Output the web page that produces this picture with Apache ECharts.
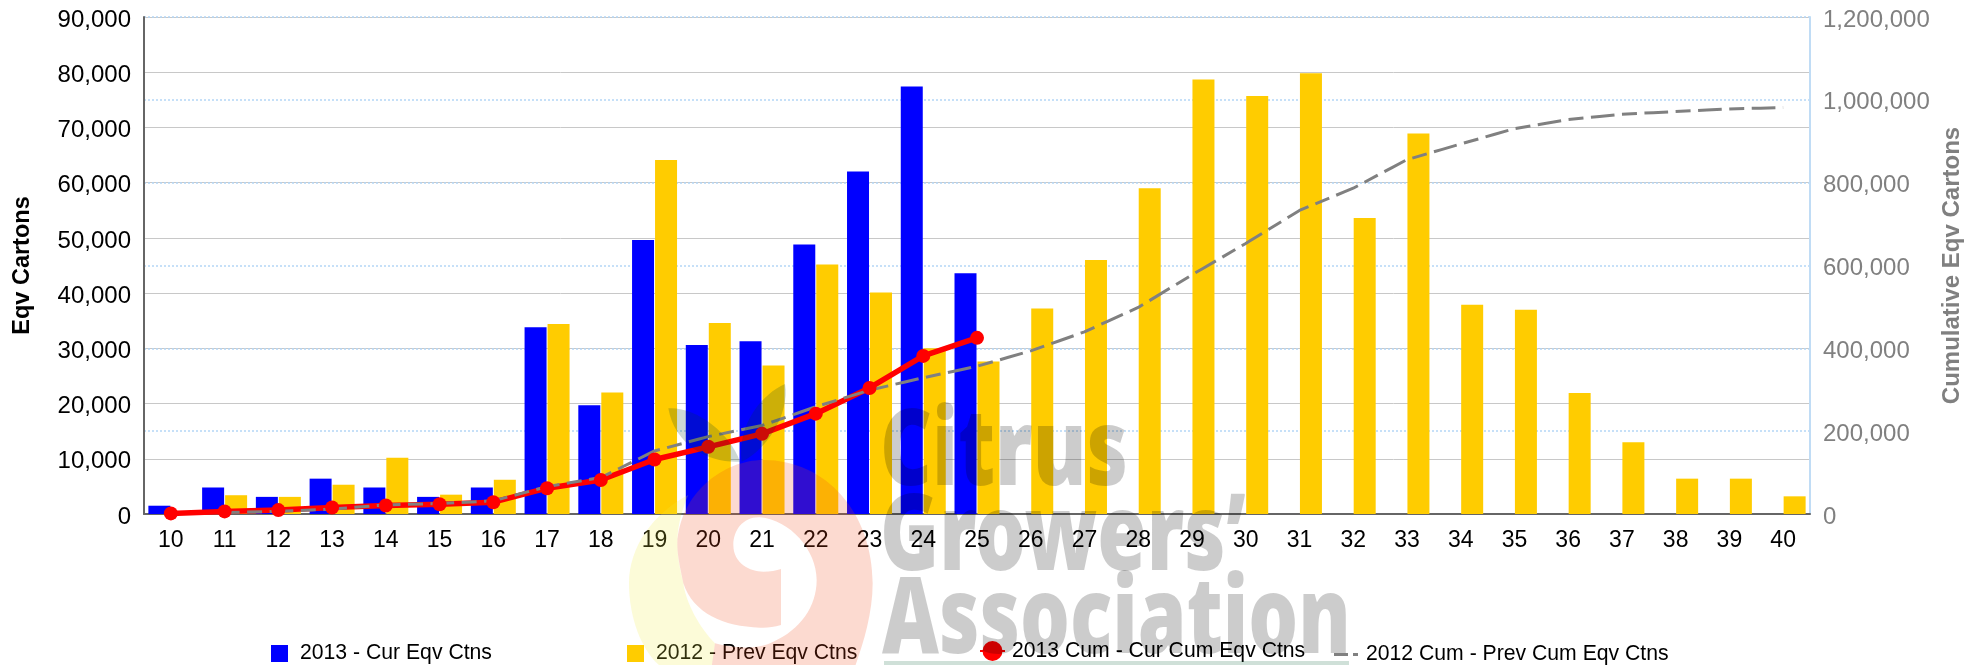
<!DOCTYPE html>
<html>
<head>
<meta charset="utf-8">
<style>html,body{margin:0;padding:0;background:#fff}#c{width:1984px;height:665px}</style>
<script src="https://cdn.jsdelivr.net/npm/echarts@6/dist/echarts.min.js"></script>
</head>
<body>
<div id="c"></div>
<script>
const weeks = ['10','11','12','13','14','15','16','17','18','19','20','21','22','23','24','25','26','27','28','29','30','31','32','33','34','35','36','37','38','39','40'];
const curEqv = [1500,4800,3100,6400,4800,3100,4800,33800,19700,49600,30600,31300,48800,62000,77400,43600];
const prevEqv = [null,3400,3100,5300,10200,3500,6200,34400,22000,64100,34600,26900,45200,40100,30000,27600,37200,46000,59000,78700,75700,79800,53600,68900,37900,37000,21900,13000,6400,6400,3200];
const curCum = [1500,6300,9400,15800,20600,23700,28500,62300,82000,131600,162200,193500,242300,304300,381700,425300];
const prevCum = [null,3400,6500,11800,22000,25500,31700,66100,88100,152200,186800,213700,258900,299000,329000,356600,393800,439800,498800,577500,653200,733000,786600,855500,893400,930400,952300,965300,971700,978100,981300];

const fmt = v => Number(v).toLocaleString('en-US');
const font = 'Liberation Sans';
const legendText = (pad) => ({fontFamily: font, fontSize: 21.2, color: '#000', padding: pad});

const pink = 'rgba(240,70,20,0.2)', cream = 'rgba(240,235,60,0.2)', leaf = 'rgba(0,60,40,0.2)', ink = 'rgba(0,0,0,0.2)';
let shapeCount = 0;
const logoPath = (d, fill) => {
  const name = 'logoShape' + (shapeCount++);
  echarts.graphic.registerShape(name, echarts.graphic.extendPath(d, {}));
  return {type:name, silent:true, z:100, x:600, y:380, scaleX:1/3, scaleY:1/3, style:{fill:fill, stroke:null}};
};
const logoWord = (text, x, y, sx) => ({type:'text', silent:true, z:100, x:x, y:y, scaleX:sx,
  style:{text:text, fill:ink, fontFamily:'Noto Sans', fontWeight:900, fontSize:106, verticalAlign:'top'}});

const chart = echarts.init(document.getElementById('c'), null, {renderer:'canvas'});
chart.setOption({
  animation:false,
  backgroundColor:'#fff',
  grid:{left:144, right:174, top:17, bottom:151},
  xAxis:{type:'category', data:weeks,
    axisLine:{lineStyle:{color:'#666', width:2}}, axisTick:{show:false},
    axisLabel:{fontFamily:font, fontSize:23, color:'#000', margin:15, interval:0}},
  yAxis:[
    {type:'value', min:0, max:90000, interval:10000, name:'Eqv Cartons', nameLocation:'middle', nameGap:109,
     nameTextStyle:{fontFamily:font, fontSize:23.5, fontWeight:'bold', color:'#000'},
     axisLine:{show:true, lineStyle:{color:'#666', width:2}}, axisTick:{show:false},
     axisLabel:{fontFamily:font, fontSize:24, color:'#000', margin:13, verticalAlign:'top', lineHeight:6, formatter:fmt},
     splitLine:{lineStyle:{color:'#c8c8c8', width:1}}},
    {type:'value', min:0, max:1200000, interval:200000, name:'Cumulative Eqv Cartons', nameLocation:'middle', nameGap:118,
     nameTextStyle:{fontFamily:font, fontSize:24, fontWeight:'bold', color:'#808080'},
     axisLine:{show:true, lineStyle:{color:'#c0dcf5', width:2}}, axisTick:{show:false},
     axisLabel:{fontFamily:font, fontSize:24, color:'#808080', margin:13, verticalAlign:'top', lineHeight:6, formatter:fmt},
     splitLine:{show:true, lineStyle:{color:'#b4d6f6', width:1.5, type:[2,2]}}}
  ],
  legend:[
    {left:271, top:643, icon:'rect', data:['2013 - Cur Eqv Ctns'], itemWidth:17, itemHeight:17, itemGap:0, padding:0, textStyle:legendText([0,0,0,7])},
    {left:627, top:643, icon:'rect', data:['2012 - Prev Eqv Ctns'], itemWidth:17, itemHeight:17, itemGap:0, padding:0, textStyle:legendText([0,0,0,7])},
    {left:979, top:640, data:['2013 Cum - Cur Cum Eqv Ctns'], itemWidth:25, itemHeight:25, itemGap:0, padding:0, textStyle:Object.assign(legendText([0,0,0,2]), {verticalAlign:'top', lineHeight:22})},
    {left:1334, top:644, data:[{name:'2012 Cum - Prev Cum Eqv Ctns', icon:'path://M0,0H14V3H0Z M19,0H24V3H19Z'}], itemWidth:24, itemHeight:3, itemGap:0, padding:0, textStyle:legendText([0,0,0,3])}
  ],
  series:[
    {name:'2013 - Cur Eqv Ctns', type:'bar', data:curEqv, barWidth:22, barGap:'4.5%', itemStyle:{color:'#0000ff'}},
    {name:'2012 - Prev Eqv Ctns', type:'bar', data:prevEqv, barWidth:22, barGap:'4.5%', itemStyle:{color:'#ffcc00'}},
    {name:'2013 Cum - Cur Cum Eqv Ctns', type:'line', yAxisIndex:1, data:curCum, symbol:'circle', symbolSize:14,
     itemStyle:{color:'#ff0000'}, lineStyle:{color:'#ff0000', width:5.5}},
    {name:'2012 Cum - Prev Cum Eqv Ctns', type:'line', yAxisIndex:1, data:prevCum, symbol:'none', connectNulls:false,
     itemStyle:{color:'#808080'}, lineStyle:{color:'#808080', width:3, type:[15,7.5,15,7.5,8.7,0]}}
  ],
  graphic:{elements:[
    logoPath('M250,610 C238,560 232,530 232,490 C232,440 245,390 265,345 C160,400 87,500 87,610 C87,720 130,820 183,860 L335,860 L345,790 C300,745 258,670 250,610 Z', cream),
    logoPath('M250,610 C240,560 232,530 232,490 C240,340 370,240 490,240 C680,240 818,400 818,610 C818,700 790,790 765,860 L335,860 L345,790 C400,805 470,810 520,785 C600,750 650,680 650,600 C650,510 570,420 480,412 C430,410 400,450 400,495 C400,550 450,575 490,575 C510,575 530,572 543,567 L543,735 C520,742 500,744 480,743 C370,740 280,700 250,610 Z', pink),
    logoPath('M205,85 C290,80 390,160 420,245 C330,250 225,200 205,85 Z', leaf),
    logoPath('M555,12 C490,40 410,130 425,245 C500,210 570,100 555,12 Z', leaf),
    {type:'rect', silent:true, z:100, shape:{x:884, y:661, width:465, height:4}, style:{fill:'rgba(0,90,50,0.19)'}},
    logoWord('Citrus', 880, 402, 0.757),
    logoWord('Growers\u2019', 880, 487, 0.755),
    logoWord('Association', 882, 570, 0.74)
  ]}
});
</script>
</body>
</html>
